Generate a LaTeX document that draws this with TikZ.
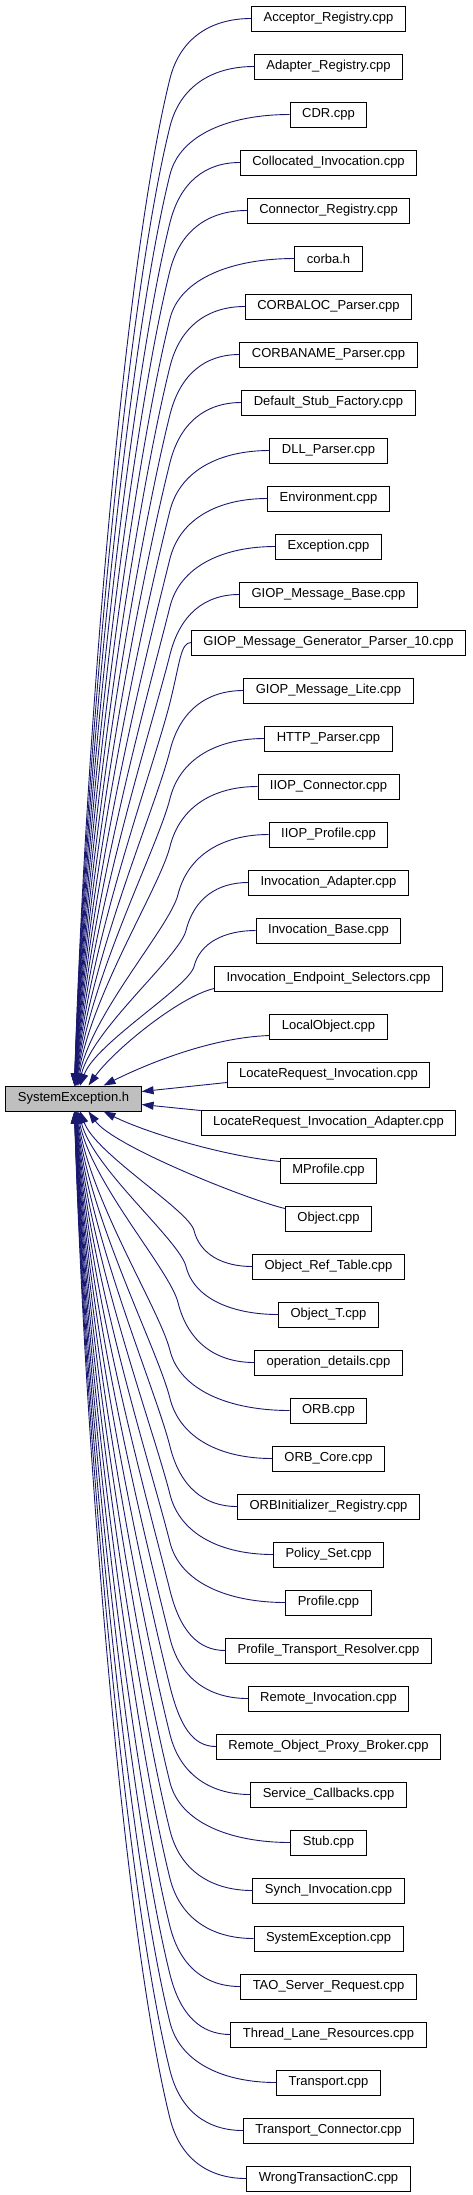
\documentclass[tikz,border=0pt]{standalone}
\usepackage{fontspec}
\setmainfont{Liberation Sans}
\usetikzlibrary{arrows.meta,positioning,calc}
\definecolor{inclblue}{HTML}{191970}
\definecolor{hdrgray}{HTML}{BFBFBF}
\tikzset{
  file/.style={draw=black, fill=white, line width=0.9pt, minimum height=25pt,
    inner xsep=12pt, inner ysep=0pt, font=\fontsize{13}{14}\selectfont},
  incl/.style={draw=inclblue, line width=0.9pt,
    -{Triangle[length=12pt,width=8pt,fill=inclblue]}},
}

\begin{document}
\begin{tikzpicture}[x=1pt,y=1pt]
  \useasboundingbox (0,0) rectangle (472,-2195);
  \node[file, fill=hdrgray] (sys) at (73.5,-1098.5) {SystemException.h};
  \foreach \lab [count=\i from 0] in {Acceptor\_Registry.cpp, Adapter\_Registry.cpp,
      CDR.cpp, Collocated\_Invocation.cpp, Connector\_Registry.cpp, corba.h,
      CORBALOC\_Parser.cpp, CORBANAME\_Parser.cpp, Default\_Stub\_Factory.cpp,
      DLL\_Parser.cpp, Environment.cpp, Exception.cpp, GIOP\_Message\_Base.cpp,
      GIOP\_Message\_Generator\_Parser\_10.cpp, GIOP\_Message\_Lite.cpp,
      HTTP\_Parser.cpp, IIOP\_Connector.cpp, IIOP\_Profile.cpp,
      Invocation\_Adapter.cpp, Invocation\_Base.cpp,
      Invocation\_Endpoint\_Selectors.cpp, LocalObject.cpp,
      LocateRequest\_Invocation.cpp, LocateRequest\_Invocation\_Adapter.cpp,
      MProfile.cpp, Object.cpp, Object\_Ref\_Table.cpp, Object\_T.cpp,
      operation\_details.cpp, ORB.cpp, ORB\_Core.cpp,
      ORBInitializer\_Registry.cpp, Policy\_Set.cpp, Profile.cpp,
      Profile\_Transport\_Resolver.cpp, Remote\_Invocation.cpp,
      Remote\_Object\_Proxy\_Broker.cpp, Service\_Callbacks.cpp, Stub.cpp,
      Synch\_Invocation.cpp, SystemException.cpp, TAO\_Server\_Request.cpp,
      Thread\_Lane\_Resources.cpp, Transport.cpp, Transport\_Connector.cpp,
      WrongTransactionC.cpp}{
    \node[file] (f\i) at (328.5,{-18.5-48*\i}) {\lab};
  }
  \coordinate (bend) at (170,0);
  % long edges: bend near the column, then run down into the header
  \foreach \i in {0,1,...,19,26,27,...,45}{
    \pgfmathsetmacro{\sg}{\i<22 ? 1 : -1}
    \pgfmathsetmacro{\d}{\i<22 ? 22-\i : \i-23}
    \pgfmathsetmacro{\bx}{max(0,6-\d)*8}
    \pgfmathsetmacro{\dr}{min(60,12*\d)}
    \pgfmathsetmacro{\len}{11.5+48*\d-\dr}
    \pgfmathsetmacro{\th}{90-75/(\d^1.2)}
    \pgfmathsetmacro{\s}{20/\d}
    \pgfmathsetmacro{\ay}{-\sg*\dr/3}
    \pgfmathsetmacro{\by}{-\sg*\dr}
    \pgfmathsetmacro{\cax}{-0.25*0.17*\len}
    \pgfmathsetmacro{\cay}{-\sg*0.17*\len}
    \pgfmathsetmacro{\cbx}{0.38*\len*cos(\th)}
    \pgfmathsetmacro{\cby}{\sg*0.38*\len*sin(\th)}
    \ifnum\i<22 \def\an{north}\else\def\an{south}\fi
    \draw[incl] (f\i.west) .. controls ($(f\i.west)!0.5!($(f\i.west -| bend)+(\bx,0)$)$)
        and ($(f\i.west -| bend)+(\bx+\dr/6,\ay)$) .. ($(f\i.west -| bend)+(\bx,\by)$)
        .. controls +(\cax,\cay) and +(\cbx,\cby) .. ([xshift=\s]sys.\an);
  }
  % short edges
  \draw[incl] ([yshift=-10pt]f20.west) .. controls +(-35,-8) and +(25,35) .. ([xshift=15pt]sys.north);
  \draw[incl] ([yshift=-9pt]f21.west) .. controls +(-60,-2) and +(40,20) .. ([xshift=30pt]sys.north);
  \draw[incl] ([yshift=-8pt]f22.west) -- ([yshift=7pt]sys.east);
  \draw[incl] ([yshift=12pt]f23.west) -- ([yshift=-6pt]sys.east);
  \draw[incl] ([yshift=9pt]f24.west) .. controls +(-60,6) and +(40,-20) .. ([xshift=30pt]sys.south);
  \draw[incl] ([yshift=10pt]f25.west) .. controls +(-35,8) and +(25,-35) .. ([xshift=15pt]sys.south);
\end{tikzpicture}
\end{document}
